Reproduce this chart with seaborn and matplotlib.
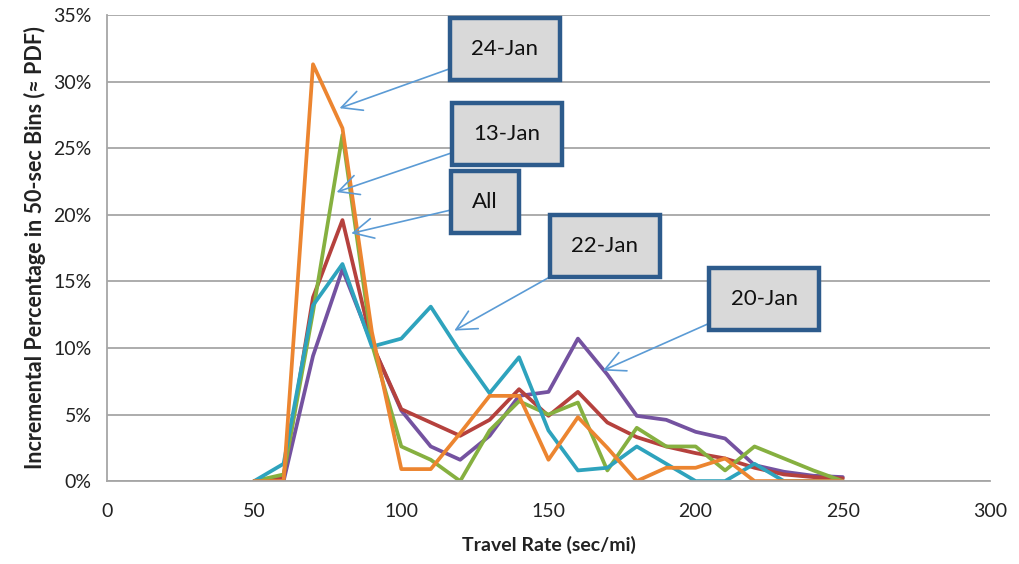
import numpy as np
import pandas as pd
import matplotlib
matplotlib.use("Agg")
import matplotlib.pyplot as plt
import seaborn as sns

# travel rate bins (sec/mi)
rate = [50, 60, 70, 80, 90, 100, 110, 120, 130, 140, 150,
        160, 170, 180, 190, 200, 210, 220, 230, 240, 250]

# incremental percentage per bin
jan20 = [0, 0, 9.4, 15.9, 10.3, 5.3, 2.6, 1.6, 3.4, 6.4, 6.7,
         10.7, 8.0, 4.9, 4.6, 3.7, 3.2, 1.2, 0.7, 0.4, 0.3]
all_days = [0, 0.3, 13.8, 19.6, 10.3, 5.4, 4.4, 3.4, 4.6, 6.9, 4.9,
            6.7, 4.4, 3.3, 2.6, 2.1, 1.7, 1.0, 0.5, 0.3, 0.2]
jan13 = [0, 0.5, 12.7, 26.0, 10.3, 2.6, 1.6, 0, 3.8, 6.0, 5.0,
         5.9, 0.8, 4.0, 2.6, 2.6, 0.8, 2.6, 1.7, 0.8, 0]
jan22 = [0, 1.3, 13.2, 16.3, 10.1, 10.7, 13.1, 9.7, 6.6, 9.3, 3.8,
         0.8, 1.0, 2.6, 1.3, 0, 0, 1.3, 0, 0, 0]
jan24 = [0, 0, 31.3, 26.5, 11.2, 0.9, 0.9, 3.6, 6.4, 6.4, 1.6,
         4.8, 2.5, 0, 1.0, 1.0, 1.7, 0, 0, 0, 0]

series = {"20-Jan": jan20, "All": all_days, "13-Jan": jan13,
          "22-Jan": jan22, "24-Jan": jan24}
colors = {"20-Jan": "#7452a0", "All": "#b5413d", "13-Jan": "#86b040",
          "22-Jan": "#2ea3bd", "24-Jan": "#ec8530"}

df = pd.concat([pd.DataFrame({"rate": rate, "pct": v, "day": k})
                for k, v in series.items()], ignore_index=True)

sns.set_style("white")
plt.rcParams["font.family"] = ["Lato", "DejaVu Sans"]

fig = plt.figure(figsize=(10.19, 5.64), dpi=100)
ax = fig.add_axes([0.105, 0.147, 0.8665, 0.8264])

sns.lineplot(data=df, x="rate", y="pct", hue="day", palette=colors,
             linewidth=2.7, legend=False, ax=ax, sort=False)

ax.set_xlim(0, 300)
ax.set_ylim(0, 35)
ax.set_xticks(range(0, 301, 50))
ax.set_yticks(range(0, 36, 5))
ax.set_yticklabels([f"{t}%" for t in range(0, 36, 5)])
ax.yaxis.grid(True, color="#a6a6a6", linewidth=1.3)
ax.set_axisbelow(True)
for s in ["top", "right"]:
    ax.spines[s].set_visible(False)
for s in ["left", "bottom"]:
    ax.spines[s].set_color("#a6a6a6")
    ax.spines[s].set_linewidth(1.3)
ax.tick_params(axis="both", direction="out", length=5, width=1.3,
               color="#a6a6a6", labelsize=14, labelcolor="#222222", pad=6)
ax.tick_params(axis="x", pad=11)

ax.set_xlabel("Travel Rate (sec/mi)", fontsize=14, fontweight="bold",
              labelpad=11, color="#222222")
ax.set_ylabel("Incremental Percentage in 50-sec Bins (\u2248 PDF)",
              fontsize=15.5, fontweight="bold", labelpad=5, color="#222222")

# callout boxes: (label, point on line, box centre in pixels)
callouts = [("24-Jan", (79, 28.0), (505, 49)),
            ("13-Jan", (78, 21.7), (507, 134)),
            ("All", (83, 18.6), (485, 202)),
            ("22-Jan", (118, 11.3), (605, 246)),
            ("20-Jan", (168.5, 8.3), (764, 299))]
for label, xy, (px, py) in callouts:
    ax.annotate(label, xy=xy, xycoords="data",
                xytext=(px, 564 - py), textcoords="figure pixels",
                fontsize=16, color="#111111", va="center", ha="center",
                bbox=dict(boxstyle="square,pad=0.95", fc="#d9d9d9",
                          ec="#2d5b8c", lw=3.2),
                arrowprops=dict(arrowstyle="->,head_length=0.9,head_width=0.45",
                                color="#5b9bd5", lw=1.2,
                                shrinkA=0, shrinkB=0))

fig.savefig("out.png", dpi=100)
